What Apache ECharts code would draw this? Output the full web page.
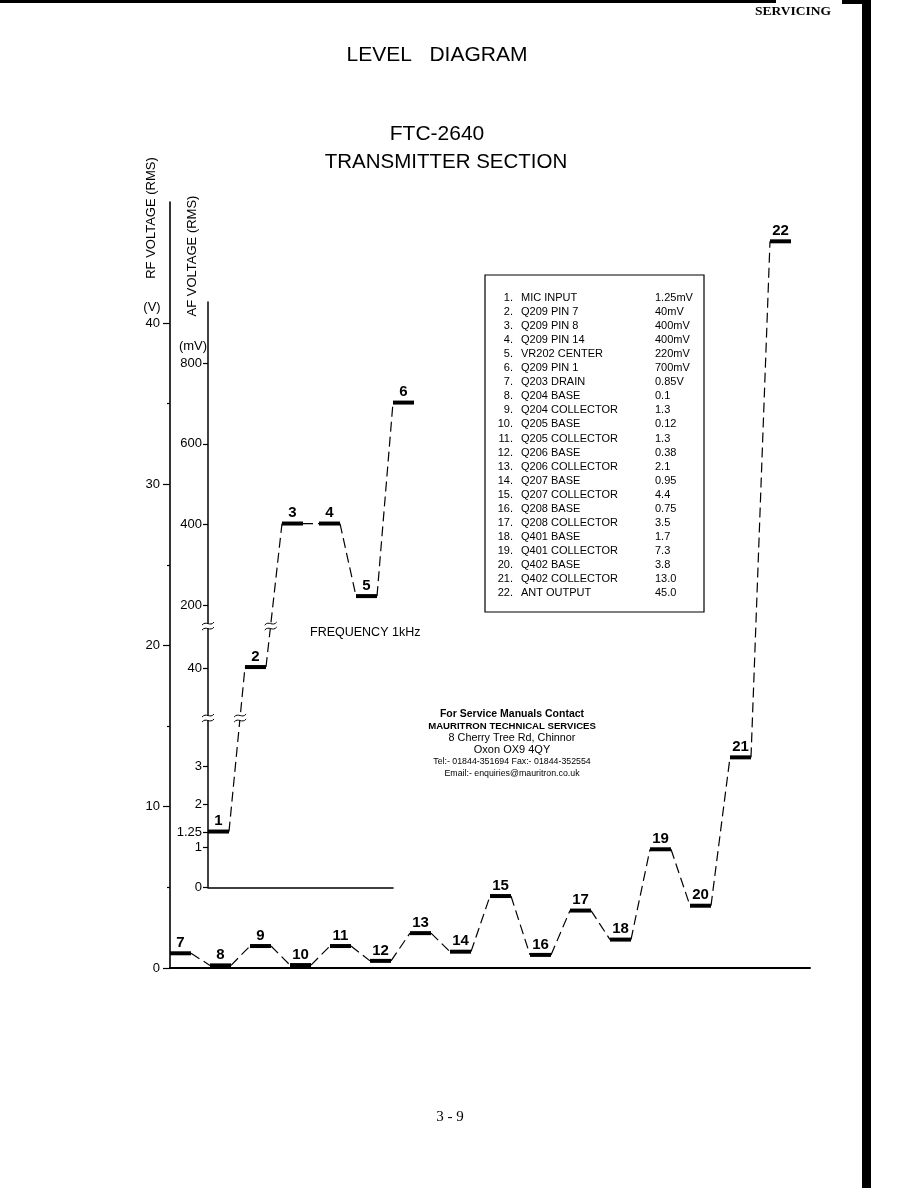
<!DOCTYPE html>
<html><head><meta charset="utf-8">
<script src="https://cdn.jsdelivr.net/npm/echarts@6/dist/echarts.min.js"></script>
<style>html,body{margin:0;padding:0;background:#fff}#c{width:918px;height:1188px}</style>
</head><body><div id="c"></div>
<script>
// ---------- DATA ----------
const afStages = ['1','2','3','4','5','6'];
const afNames = ['MIC INPUT','Q209 PIN 7','Q209 PIN 8','Q209 PIN 14','VR202 CENTER','Q209 PIN 1'];
const afValues = [1.25, 40, 400, 400, 220, 700];           // mV
const afValueText = ['1.25mV','40mV','400mV','400mV','220mV','700mV'];

const rfStages = ['7','8','9','10','11','12','13','14','15','16','17','18','19','20','21','22'];
const rfNames = ['Q203 DRAIN','Q204 BASE','Q204 COLLECTOR','Q205 BASE','Q205 COLLECTOR','Q206 BASE',
  'Q206 COLLECTOR','Q207 BASE','Q207 COLLECTOR','Q208 BASE','Q208 COLLECTOR','Q401 BASE',
  'Q401 COLLECTOR','Q402 BASE','Q402 COLLECTOR','ANT OUTPUT'];
const rfValues = [0.85, 0.1, 1.3, 0.12, 1.3, 0.38, 2.1, 0.95, 4.4, 0.75, 3.5, 1.7, 7.3, 3.8, 13.0, 45.0]; // V
const rfValueText = ['0.85V','0.1','1.3','0.12','1.3','0.38','2.1','0.95','4.4','0.75','3.5','1.7','7.3','3.8','13.0','45.0'];

const rfTicks = [0, 10, 20, 30, 40];
const rfMinorTicks = [5, 15, 25, 35];
const afTicks = [0, 1, 1.25, 2, 3, 40, 200, 400, 600, 800];
const afTickLabels = ['0','1','1.25','2','3','40','200','400','600','800'];

// ---------- AF broken-axis scale (mV -> level on the RF volt scale) ----------
const afScale = { mv: [0, 1, 1.25, 3, 40, 200, 800], level: [5, 7.5, 8.4, 12.5, 18.6, 22.5, 37.5], breaks: [15.5, 21.2] };
function afLevel(mv) {
  const a = afScale.mv, b = afScale.level;
  for (let j = 1; j < a.length; j++) {
    if (mv <= a[j] || j === a.length - 1) return b[j-1] + (mv - a[j-1]) * (b[j] - b[j-1]) / (a[j] - a[j-1]);
  }
}

const SANS = '"Liberation Sans", Arial, Helvetica, sans-serif';
const NARROW = '"Liberation Sans Narrow", "Arial Narrow", "Liberation Sans", sans-serif';
const SERIF = '"Liberation Serif", "Times New Roman", serif';
const BAR_W = 21;

function breakMark(cx, cy) {
  return [
    {type:'rect', shape:{x:cx-4, y:cy-2.5, width:8, height:5}, style:{fill:'#fff'}},
    {type:'bezierCurve', shape:{x1:cx-6, y1:cy-1, cpx1:cx-2, cpy1:cy-6, cpx2:cx+2, cpy2:cy+1, x2:cx+6, y2:cy-4}, style:{stroke:'#000', fill:null, lineWidth:1}},
    {type:'bezierCurve', shape:{x1:cx-6, y1:cy+4, cpx1:cx-2, cpy1:cy-1, cpx2:cx+2, cpy2:cy+6, x2:cx+6, y2:cy+1}, style:{stroke:'#000', fill:null, lineWidth:1}}
  ];
}

function makeRender(labels, breaks) {
  return function (params, api) {
    const idx = params.dataIndex;
    const x = api.value(0), lv = api.value(1), nlv = api.value(2), hasNext = api.value(3);
    const p = api.coord([x, lv]);
    const yb = p[1] - 1;
    const xe = p[0] + BAR_W;
    const ch = [];
    if (hasNext) {
      const q = api.coord([x + 1, nlv]);
      ch.push({type:'line', shape:{x1:xe, y1:yb, x2:q[0], y2:q[1]-1}, style:{stroke:'#000', lineWidth:1.2, lineDash:[10,5]}});
      if (breaks) breaks.forEach(function (L) {
        if ((L - lv) * (L - nlv) < 0) {
          const t = (L - lv) / (nlv - lv);
          const yL = api.coord([x, L])[1];
          const xL = xe + t * (q[0] - xe);
          breakMark(xL, yL).forEach(function (e) { ch.push(e); });
        }
      });
    }
    if (breaks && idx === 0) {
      breaks.forEach(function (L) { const c = api.coord([0, L]); breakMark(c[0], c[1]).forEach(function (e) { ch.push(e); }); });
    }
    ch.push({type:'line', shape:{x1:p[0], y1:yb, x2:xe, y2:yb}, style:{stroke:'#000', lineWidth:4}});
    ch.push({type:'text', style:{text: labels[idx], x: p[0] + BAR_W/2, y: yb - 3,
      align:'center', verticalAlign:'bottom', textAlign:'center', textVerticalAlign:'bottom',
      fontSize:15, fontWeight:'bold', fontFamily:SANS, fill:'#000'}});
    return {type:'group', children: ch};
  };
}

function T(x, y, text, size, o) {
  o = o || {};
  const al = o.align || 'center';
  return {type:'text', x:x, y:y, rotation:o.rot || 0, silent:true, z:10,
    style:{text:text, fill:'#000', fontSize:size, fontFamily:o.family || SANS, fontWeight:o.weight || 'normal',
      align:al, textAlign:al, verticalAlign:'middle', textVerticalAlign:'middle'}};
}

const afData = afValues.map(function (v, i) {
  const last = i === afValues.length - 1;
  return [i, afLevel(v), last ? afLevel(v) : afLevel(afValues[i+1]), last ? 0 : 1];
});
const rfData = rfValues.map(function (v, k) {
  const last = k === rfValues.length - 1;
  return [k, v, last ? v : rfValues[k+1], last ? 0 : 1];
});

// graphic texts
const g = [];
g.push({type:'rect', shape:{x:0, y:0, width:776, height:3}, style:{fill:'#000'}});
g.push({type:'rect', shape:{x:842, y:0, width:22, height:4}, style:{fill:'#000'}});
g.push({type:'rect', shape:{x:862, y:0, width:9, height:1188}, style:{fill:'#000'}});
g.push(T(793, 12, 'SERVICING', 13.5, {family:SERIF, weight:'bold'}));
g.push(T(437, 55, 'LEVEL   DIAGRAM', 21));
g.push(T(437, 134, 'FTC-2640', 21));
g.push(T(446, 162, 'TRANSMITTER SECTION', 20.5));
g.push(T(151, 218, 'RF VOLTAGE (RMS)', 13, {rot: Math.PI/2}));
g.push(T(152, 307, '(V)', 13));
g.push(T(192, 256, 'AF VOLTAGE (RMS)', 13, {rot: Math.PI/2}));
g.push(T(193, 346, '(mV)', 13));
g.push(T(310, 633, 'FREQUENCY 1kHz', 12.5, {align:'left'}));
g.push({type:'rect', shape:{x:485, y:275, width:219, height:337}, style:{fill:null, stroke:'#000', lineWidth:1.2}});
const allNames = afNames.concat(rfNames), allVals = afValueText.concat(rfValueText);
allNames.forEach(function (n, i) {
  const y = 298 + i * 14.05;
  g.push(T(513, y, (i + 1) + '.', 11, {align:'right'}));
  g.push(T(521, y, n, 11, {align:'left'}));
  g.push(T(655, y, allVals[i], 11, {align:'left'}));
});
const contact = ['For Service Manuals Contact','MAURITRON TECHNICAL SERVICES','8 Cherry Tree Rd, Chinnor',
  'Oxon OX9 4QY','Tel:- 01844-351694 Fax:- 01844-352554','Email:- enquiries@mauritron.co.uk'];
const contactY = [714, 726, 738, 750, 762, 774];
const contactSize = [10.5, 9.6, 10.8, 11, 8.8, 8.8];
contact.forEach(function (s, i) { g.push(T(512, contactY[i], s, contactSize[i], {family:NARROW, weight: (i === 1 || i === 0) ? 'bold' : 'normal'})); });
g.push(T(450, 1117, '3 - 9', 15, {family:SERIF}));

const K = 766 / 47.5;
const afTop = 968 - 41.3 * K;
const afH = 36.3 * K;

const option = {
  animation: false,
  backgroundColor: '#fff',
  textStyle: {fontFamily: SANS},
  grid: [
    {left:170, top:202, width:640, height:766, containLabel:false, outerBoundsMode:'none'},
    {left:208, top:afTop, width:185, height:afH, containLabel:false, outerBoundsMode:'none'},
    {left:170, top:202, width:640, height:766, containLabel:false, outerBoundsMode:'none'}
  ],
  xAxis: [
    {gridIndex:0, type:'value', min:0, max:16, axisLine:{show:true, onZero:false, lineStyle:{color:'#000', width:2}},
      axisTick:{show:false}, axisLabel:{show:false}, splitLine:{show:false}},
    {gridIndex:1, type:'value', min:0, max:5, axisLine:{show:true, onZero:false, lineStyle:{color:'#000', width:1.6}},
      axisTick:{show:false}, axisLabel:{show:false}, splitLine:{show:false}},
    {gridIndex:2, type:'value', min:0, max:16, show:false}
  ],
  yAxis: [
    {gridIndex:0, type:'value', min:0, max:47.5,
      axisLine:{show:true, lineStyle:{color:'#000', width:1.6}},
      axisTick:{show:true, length:7, customValues: rfTicks, lineStyle:{color:'#000', width:1.2}},
      axisLabel:{show:true, customValues: rfTicks, margin:10, fontSize:13, color:'#000', fontFamily:SANS},
      splitLine:{show:false}},
    {gridIndex:1, type:'value', min:5, max:41.3,
      axisLine:{show:true, lineStyle:{color:'#000', width:1.5}},
      axisTick:{show:true, length:5, customValues: afTicks.map(afLevel), lineStyle:{color:'#000', width:1.2}},
      axisLabel:{show:true, customValues: afTicks.map(afLevel), margin:6, fontSize:13, color:'#000', fontFamily:SANS,
        formatter: function (v) {
          let best = 0;
          afTicks.forEach(function (t, j) { if (Math.abs(afLevel(t) - v) < Math.abs(afLevel(afTicks[best]) - v)) best = j; });
          return afTickLabels[best];
        }},
      splitLine:{show:false}},
    {gridIndex:2, type:'value', min:0, max:47.5,
      axisLine:{show:false}, axisLabel:{show:false}, splitLine:{show:false},
      axisTick:{show:true, length:3, customValues: rfMinorTicks, lineStyle:{color:'#000', width:1.2}}}
  ],
  series: [
    {type:'custom', name:'AF', coordinateSystem:'cartesian2d', xAxisIndex:1, yAxisIndex:1, clip:false, silent:true,
      encode:{x:0, y:1}, data: afData, renderItem: makeRender(afStages, afScale.breaks), z:5},
    {type:'custom', name:'RF', coordinateSystem:'cartesian2d', xAxisIndex:0, yAxisIndex:0, clip:false, silent:true,
      encode:{x:0, y:1}, data: rfData, renderItem: makeRender(rfStages, null), z:5}
  ],
  graphic: {elements: g}
};
const chart = echarts.init(document.getElementById('c'));
chart.setOption(option);
</script></body></html>
